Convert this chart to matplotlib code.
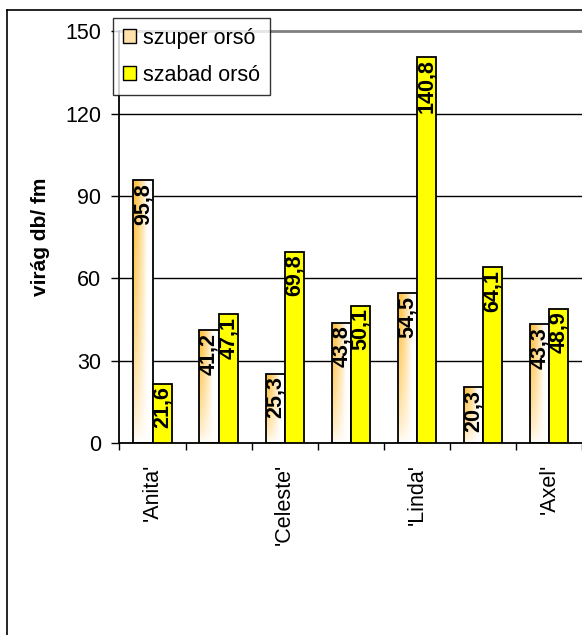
import numpy as np
import matplotlib.pyplot as plt
from matplotlib.lines import Line2D
from matplotlib.patches import Patch

plt.rcParams['font.family'] = ['Liberation Sans', 'DejaVu Sans']

# ----------------------------
# Data
# ----------------------------
groups = ["'Anita'", "", "'Celeste'", "", "'Linda'", "", "'Axel'"]
szuper = [95.8, 41.2, 25.3, 43.8, 54.5, 20.3, 43.3]
szabad = [21.6, 47.1, 69.8, 50.1, 140.8, 64.1, 48.9]
series_names = ['szuper orsó', 'szabad orsó']

ORANGE = np.array([255, 185, 40]) / 255.0
YELLOW = '#FFFF00'

fig = plt.figure(figsize=(5.82, 6.35), dpi=100)
ax = fig.add_axes([0.2053, 0.3024, 0.7947, 0.648])

x = np.arange(len(groups))
w = 0.29

# gradient image for szuper orsó bars (orange top-left -> white)
gx, gy = np.meshgrid(np.linspace(0, 1, 40), np.linspace(0, 1, 80))
t = np.clip(1.0 - gx / 0.7, 0, 1) ** 0.8 * np.clip(gy, 0, 1) ** 0.6
grad = np.ones((80, 40, 3)) * (1 - t[..., None]) + ORANGE * t[..., None]

bars1 = ax.bar(x - w / 2, szuper, w, facecolor='none', edgecolor='black', linewidth=1.3, zorder=3)
for b in bars1:
    x0, y0 = b.get_x(), b.get_y()
    im = ax.imshow(grad, extent=[x0, x0 + b.get_width(), y0, y0 + b.get_height()],
                   origin='lower', aspect='auto', zorder=2, interpolation='bilinear')
    im.set_clip_path(b)
bars2 = ax.bar(x + w / 2, szabad, w, color=YELLOW, edgecolor='black', linewidth=1.3, zorder=3)

# value labels (comma decimal)
for bars, vals in [(bars1, szuper), (bars2, szabad)]:
    for b, v in zip(bars, vals):
        ax.text(b.get_x() + b.get_width() / 2, v - 1.0, f'{v:.1f}'.replace('.', ','),
                rotation=90, ha='center', va='top', fontsize=15.5, fontweight='bold', zorder=4)

ax.set_xlim(-0.5, len(groups) - 0.5)
ax.set_ylim(0, 150)
ax.set_yticks([0, 30, 60, 90, 120, 150])
ax.tick_params(axis='y', labelsize=15.5, length=6, width=1, direction='out', pad=7)
ax.set_xticks(x)
ax.set_xticklabels(groups, rotation=90, fontsize=15.5)
ax.set_xticks(np.arange(-0.5, len(groups)), minor=True)
ax.tick_params(axis='x', which='major', length=0, pad=15)
ax.tick_params(axis='x', which='minor', length=5, width=1)

for yv in [30, 60, 90, 120]:
    ax.axhline(yv, color='black', linewidth=1, zorder=1)
ax.axhline(150, color='#808080', linewidth=2, zorder=1, clip_on=False)

for s in ['top', 'right']:
    ax.spines[s].set_visible(False)
ax.spines['left'].set_linewidth(1.3)
ax.spines['bottom'].set_linewidth(1.3)

ax.set_ylabel('virág db/ fm', fontsize=15, fontweight='bold')
ax.yaxis.set_label_coords(-0.15, 0.5)

handles = [Patch(facecolor='#FFE0A8', edgecolor='black', label=series_names[0]),
           Patch(facecolor=YELLOW, edgecolor='black', label=series_names[1])]
leg = ax.legend(handles=handles, loc='upper left', bbox_to_anchor=(-0.014, 1.033),
                borderaxespad=0, fontsize=15.5, frameon=True, fancybox=False, edgecolor='black',
                handlelength=0.6, handleheight=0.6, handletextpad=0.35,
                labelspacing=0.75, borderpad=0.45)
leg.get_frame().set_linewidth(1)
leg.set_zorder(5)

# outer chart frame (left and top only visible)
fig.add_artist(Line2D([7 / 582, 7 / 582], [0, 1 - 10 / 635], color='black', linewidth=1.2))
fig.add_artist(Line2D([7 / 582, 1], [1 - 10 / 635, 1 - 10 / 635], color='black', linewidth=1.2))

plt.savefig('out.png', dpi=100)
